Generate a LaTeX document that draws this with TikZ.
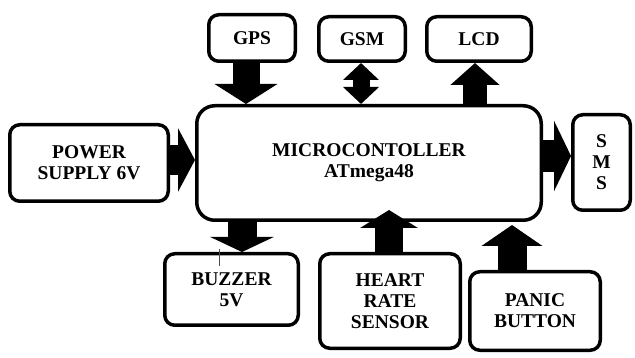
\documentclass[tikz,border=0pt]{standalone}
\usepackage{fontspec}
\setmainfont{Liberation Serif}
\newfontfamily\blkfont{Liberation Serif}
\usetikzlibrary{arrows.meta}
\tikzset{
  blockbox/.style={draw, line width=3.5pt, rounded corners=10pt, align=center,
    inner sep=0pt, font=\blkfont\bfseries\fontsize{19.5}{21}\selectfont},
  blk/.style n args={3}{line width=#1pt, -{Triangle[width=#2pt, length=#3pt]}},
  dblk/.style n args={3}{line width=#1pt,
    {Triangle[width=#2pt, length=#3pt]}-{Triangle[width=#2pt, length=#3pt]}},
}
\begin{document}
\begin{tikzpicture}[x=1pt, y=-1pt]
  \useasboundingbox (0,0) rectangle (635,358);
  % blocks
  \node[blockbox, minimum width=86.5pt, minimum height=46.5pt] (gps) at (252,38) {GPS};
  \node[blockbox, minimum width=86.5pt, minimum height=44.5pt] (gsm) at (362,39) {GSM};
  \node[blockbox, minimum width=104.5pt, minimum height=44.5pt] (lcd) at (479,39) {LCD};
  \node[blockbox, rounded corners=18pt, minimum width=344.5pt, minimum height=114.5pt]
    (mcu) at (369,163) {MICROCONTOLLER\\ATmega48};
  \node[blockbox, minimum width=158.5pt, minimum height=76.5pt] (power) at (89,163) {POWER\\SUPPLY 6V};
  \node[blockbox, minimum width=57.5pt, minimum height=95.5pt] (sms) at (601.5,162.5) {S\\M\\S};
  \node[blockbox, minimum width=133.5pt, minimum height=71.5pt] (buzzer) at (231.5,289.5) {BUZZER\\5V};
  \node[blockbox, minimum width=140.5pt, minimum height=94.5pt] (heart) at (390,301) {HEART\\RATE\\SENSOR};
  \node[blockbox, minimum width=130.5pt, minimum height=78.5pt] (panic) at (535,311)
    {\raisebox{-4pt}{PANIC}\\\raisebox{-4pt}{BUTTON}};
  % block arrows
  \draw[blk={27}{62}{20}] ([xshift=-6pt]gps.south) -- ([xshift=-6pt]gps.south |- mcu.north);
  \draw[dblk={17}{35}{17}] ([xshift=-1pt]gsm.south) -- ([xshift=-1pt]gsm.south |- mcu.north);
  \draw[blk={24}{48}{22}] ([xshift=-4pt]lcd.south |- mcu.north) -- ([xshift=-4pt]lcd.south);
  \draw[blk={30}{63}{17}] ([yshift=3pt]power.east) -- ([yshift=3pt]power.east -| mcu.west);
  \draw[blk={32}{70}{17}] ([yshift=7pt]mcu.east) -- ([yshift=7pt]mcu.east -| sms.west);
  \draw[blk={29}{63}{15}] ([xshift=10.5pt]buzzer.north |- mcu.south) -- ([xshift=10.5pt]buzzer.north);
  \draw[blk={28}{57}{18}] ([xshift=-1pt]heart.north) -- ++(0,-42);
  \draw[blk={29}{60}{21}] ([xshift=-23pt]panic.north) -- ++(0,-45);
  \draw[line width=1pt, black!70] ([xshift=-12pt,yshift=3pt]buzzer.north) -- ++(0,17);
\end{tikzpicture}
\end{document}
